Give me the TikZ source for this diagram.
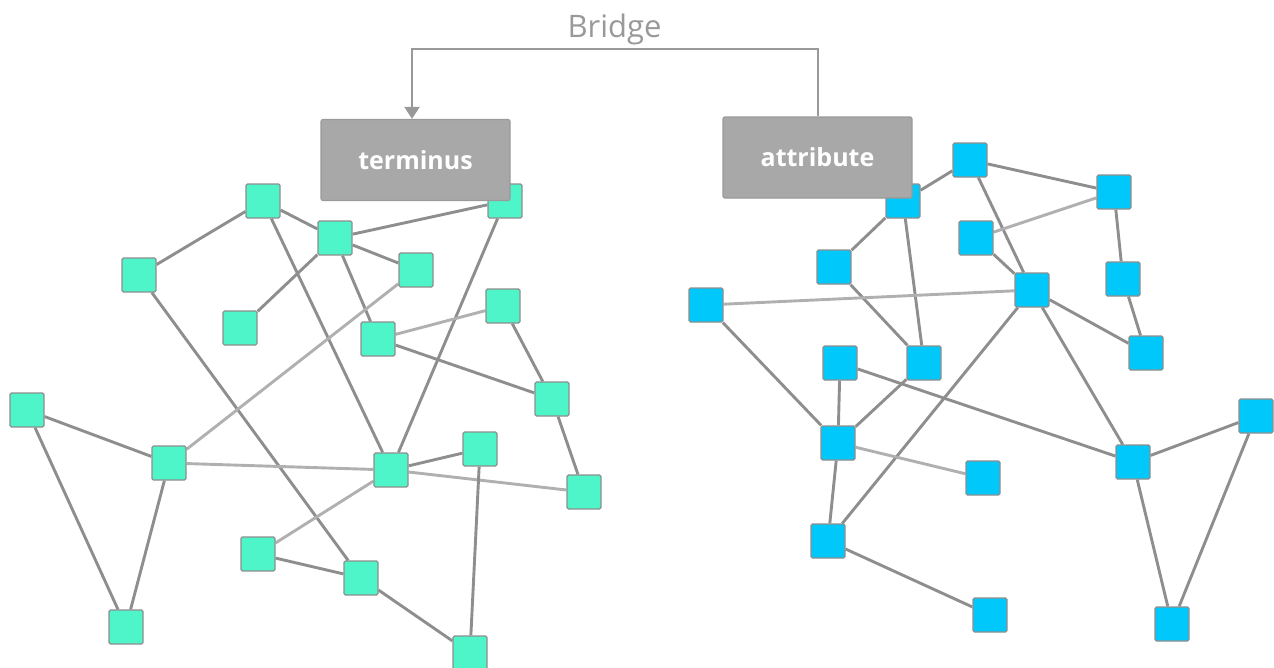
\documentclass[tikz,border=0pt]{standalone}
\usepackage{fontspec}
\setmainfont{Open Sans}
\usetikzlibrary{arrows.meta}
\definecolor{mint}{HTML}{4EF5C8}
\definecolor{sky}{HTML}{00C8FA}
\definecolor{rim}{HTML}{8E8E8E}
\definecolor{wire}{HTML}{8E8E8E}
\definecolor{wirelight}{HTML}{B0B0B0}
\definecolor{boxfill}{HTML}{A9A8A9}
\definecolor{boxrim}{HTML}{9A9A9A}
\definecolor{bridgegray}{HTML}{999999}
\pgfdeclarelayer{links}
\pgfsetlayers{links,main}
\tikzset{
  vtx/.style={draw=rim, line width=1.2pt, rounded corners=1.5pt,
    minimum width=34pt, minimum height=34pt, inner sep=0pt},
  lvtx/.style={vtx, fill=mint},
  rvtx/.style={vtx, fill=sky},
  edge/.style={draw=wire, line width=2.9pt},
  faint/.style={draw=wirelight, line width=2.9pt},
  labelbox/.style={draw=boxrim, fill=boxfill, line width=1.2pt, rounded corners=2pt,
    minimum width=189pt, minimum height=81pt, inner sep=0pt,
    text=white, font=\fontsize{25}{30}\selectfont\bfseries},
  bridgeline/.style={draw=bridgegray, line width=2pt},
}
\begin{document}
\begin{tikzpicture}[x=1pt, y=-1pt]
\useasboundingbox (0,0) rectangle (1274,667);

% ---- left network ----
\node[lvtx] (A) at (139,275) {};
\node[lvtx] (B) at (263,201) {};
\node[lvtx] (C) at (335,238) {};
\node[lvtx] (D) at (505,201) {};
\node[lvtx] (E) at (416,270) {};
\node[lvtx] (F) at (240,328) {};
\node[lvtx] (G) at (378,339) {};
\node[lvtx] (H) at (503,306) {};
\node[lvtx] (I) at (552,399) {};
\node[lvtx] (J) at (27,410) {};
\node[lvtx] (K) at (169,463) {};
\node[lvtx] (L) at (391,470) {};
\node[lvtx] (M) at (480,449) {};
\node[lvtx] (N) at (584,492) {};
\node[lvtx] (O) at (258,554) {};
\node[lvtx] (P) at (361,578) {};
\node[lvtx] (Q) at (126,627) {};
\node[lvtx] (R) at (470,653) {};

% ---- right network ----
\node[rvtx] (a) at (903,201) {};
\node[rvtx] (b) at (970,160) {};
\node[rvtx] (c) at (1114,192) {};
\node[rvtx] (d) at (976,238) {};
\node[rvtx] (e) at (834,267) {};
\node[rvtx] (f) at (1032,290) {};
\node[rvtx] (g) at (1123,279) {};
\node[rvtx] (h) at (706,305) {};
\node[rvtx] (i) at (1146,353) {};
\node[rvtx] (j) at (840,363) {};
\node[rvtx] (k) at (924,363) {};
\node[rvtx] (l) at (1256,416) {};
\node[rvtx] (m) at (838,443) {};
\node[rvtx] (n) at (1133,462) {};
\node[rvtx] (o) at (983,478) {};
\node[rvtx] (p) at (828,541) {};
\node[rvtx] (q) at (990,615) {};
\node[rvtx] (r) at (1172,624) {};

% links, kept behind the squares
\begin{pgfonlayer}{links}
  \draw[edge] (A) -- (B);
  \draw[edge] (B) -- (C);
  \draw[edge] (B) -- (L);
  \draw[edge] (A) -- (P);
  \draw[edge] (C) -- (D);
  \draw[edge] (C) -- (E);
  \draw[edge] (C) -- (F);
  \draw[edge] (C) -- (G);
  \draw[edge] (D) -- (L);
  \draw[faint] (E) -- (K);
  \draw[faint] (G) -- (H);
  \draw[edge] (G) -- (I);
  \draw[edge] (H) -- (I);
  \draw[edge] (I) -- (N);
  \draw[edge] (J) -- (K);
  \draw[edge] (J) -- (Q);
  \draw[edge] (K) -- (Q);
  \draw[faint] (K) -- (L);
  \draw[faint] (L) -- (N);
  \draw[edge] (L) -- (M);
  \draw[edge] (M) -- (R);
  \draw[faint] (L) -- (O);
  \draw[edge] (O) -- (P);
  \draw[edge] (P) -- (R);

  \draw[edge] (a) -- (b);
  \draw[edge] (b) -- (c);
  \draw[edge] (b) -- (f);
  \draw[faint] (c) -- (d);
  \draw[edge] (c) -- (g);
  \draw[edge] (g) -- (i);
  \draw[edge] (a) -- (e);
  \draw[edge] (a) -- (k);
  \draw[edge] (e) -- (k);
  \draw[edge] (d) -- (f);
  \draw[faint] (h) -- (f);
  \draw[edge] (h) -- (m);
  \draw[edge] (f) -- (i);
  \draw[edge] (f) -- (n);
  \draw[edge] (f) -- (p);
  \draw[edge] (j) -- (m);
  \draw[edge] (j) -- (n);
  \draw[edge] (m) -- (k);
  \draw[faint] (m) -- (o);
  \draw[edge] (m) -- (p);
  \draw[edge] (p) -- (q);
  \draw[edge] (n) -- (l);
  \draw[edge] (n) -- (r);
  \draw[edge] (l) -- (r);
\end{pgfonlayer}

% ---- labelled boxes ----
\node[labelbox] (term) at (415.5,160) {terminus};
\node[labelbox] (attr) at (817.5,157.5) {attribute};

% ---- bridge ----
\coordinate (span) at (0,49);
\draw[bridgeline, -{Triangle[width=15pt,length=12pt]}]
  (attr.north) -- (attr.north |- span) -| ([xshift=-3.5pt]term.north);
\node[anchor=base, text=bridgegray, font=\fontsize{31}{36}\selectfont]
  (bridgelabel) at (614.5,37) {Bridge};
\end{tikzpicture}
\end{document}
